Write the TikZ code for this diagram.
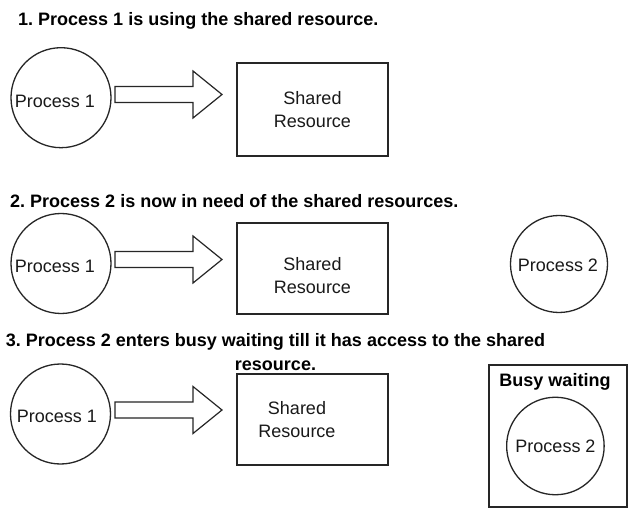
\documentclass[tikz,border=0pt]{standalone}
\usepackage{fontspec}
\setmainfont{Liberation Sans}
\frenchspacing
\newcommand\blockarr[2]{%
  \draw[blockarrow] (115,{#2-8}) coordinate (#1s) -- (193,{#2-8}) -- (193,{#2-23.5}) -- (222,#2) coordinate (#1t)
     -- (193,{#2+23.5}) -- (193,{#2+8}) -- (115,{#2+8}) -- cycle;}
\begin{document}
\begin{tikzpicture}[x=1pt,y=-1pt,
  proc/.style={draw=black!85, line width=1.3pt, circle, inner sep=0pt},
  res/.style={draw=black!85, line width=1.3pt, rectangle, inner sep=0pt, minimum width=151pt, minimum height=91pt},
  lbl/.style={font=\fontsize{18}{23}\selectfont, inner sep=0pt, align=center, text=black!90},
  ttl/.style={font=\fontsize{18}{24}\selectfont\bfseries, inner sep=0pt, align=center, text=black},
  blockarrow/.style={draw=black!85, line width=1.2pt, fill=white, line join=miter}]
\useasboundingbox[fill=white] (0,0) rectangle (635,513);

% ---------- Panel 1
\node[ttl, anchor=base west] (t1) at (18,25.5) {1. Process 1 is using the shared resource.};
\node[proc, minimum size=100pt] (c1) at (61,97.7) {};
\node[lbl] (c1t) at (55,101) {Process 1};
\blockarr{a1}{94.5}
\node[res, minimum height=93pt] (b1) at (312.5,109.5) {};
\node[lbl] (b1t) at (312.5,109.5) {Shared\\Resource};

% ---------- Panel 2
\node[ttl, anchor=base west] (t2) at (10,208) {2. Process 2 is now in need of the shared resources.};
\node[proc, minimum size=100pt] (c2) at (61,263.5) {};
\node[lbl] (c2t) at (55,266) {Process 1};
\blockarr{a2}{259.5}
\node[res] (b2) at (312.5,268.5) {};
\node[lbl] (b2t) at (312.5,276) {Shared\\Resource};
\node[proc, minimum size=97pt] (c2b) at (559,264) {};
\node[lbl] (c2bt) at (558,265) {Process 2};

% ---------- Panel 3
\node[ttl] (t3) at (275.5,352) {3. Process 2 enters busy waiting till it has access to the shared\\resource.};
\node[proc, minimum size=100pt] (c3) at (60.5,414) {};
\node[lbl] (c3t) at (57,416.5) {Process 1};
\blockarr{a3}{410}
\node[res] (b3) at (312.5,419.5) {};
\node[lbl] (b3t) at (297,419.5) {Shared\\Resource};
\node[draw=black!85, line width=1.3pt, rectangle, inner sep=0pt, minimum width=138pt, minimum height=142pt] (bw) at (558,436) {};
\node[ttl] (bwt) at (555,382) {Busy waiting};
\node[proc, minimum size=97.5pt] (c3b) at (555.4,446) {};
\node[lbl] (c3bt) at (555.5,446.5) {Process 2};
\end{tikzpicture}
\end{document}
